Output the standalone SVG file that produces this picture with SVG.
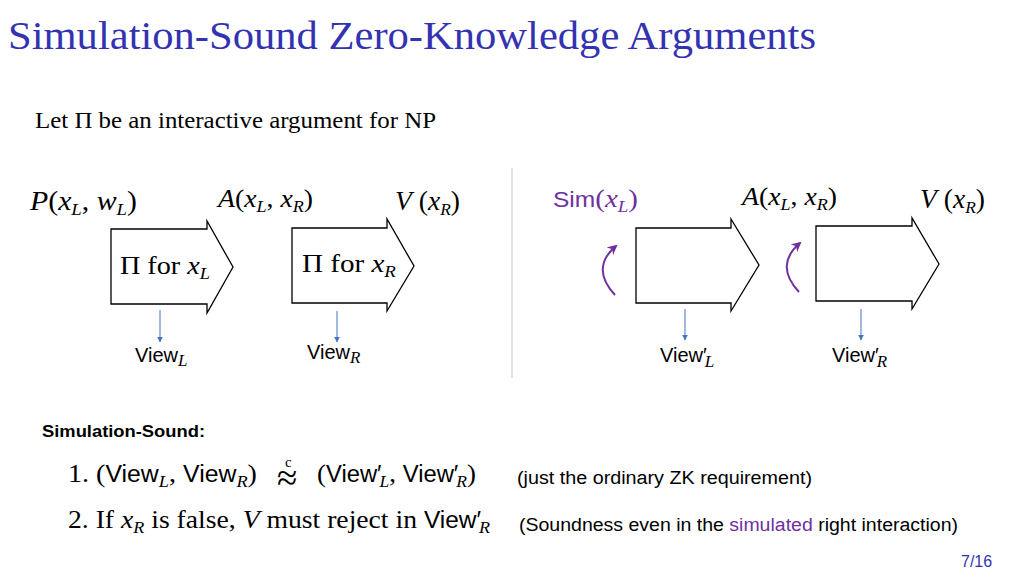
<svg xmlns="http://www.w3.org/2000/svg" width="1024" height="576" viewBox="0 0 1024 576">
<defs>
<style>
.m{font-family:"Liberation Serif","Times New Roman",serif;font-size:25px;fill:#000}
.i{font-style:italic}
.s{font-size:17px}
.v{font-family:"Liberation Sans",Arial,sans-serif;font-size:20px}
.cal{font-family:"Liberation Sans","Open Sans",sans-serif;font-size:18px;fill:#000}
.box{fill:#fff;stroke:#000;stroke-width:1.3}
.blue{stroke:#4472c4;stroke-width:1;fill:none}
.pur{stroke:#7030a0;stroke-width:2;fill:none}
</style>
<marker id="bh" viewBox="0 0 10 10" refX="9" refY="5" markerWidth="6" markerHeight="6" markerUnits="userSpaceOnUse" orient="auto"><path d="M0,0 L10,5 L0,10 z" fill="#4472c4"/></marker>
<marker id="ph" viewBox="0 0 10 10" refX="8" refY="5" markerWidth="10" markerHeight="10" markerUnits="userSpaceOnUse" orient="auto"><path d="M0,0 L10,5 L0,10 L3,5 z" fill="#7030a0"/></marker>
</defs>
<rect width="1024" height="576" fill="#fff"/>
<text x="8" y="49" font-family="Liberation Serif,serif" font-size="40" fill="#3333b2" textLength="808" lengthAdjust="spacingAndGlyphs">Simulation-Sound Zero-Knowledge Arguments</text>
<text x="35" y="128" class="m" textLength="401" lengthAdjust="spacingAndGlyphs" style="font-size:23px">Let Π be an interactive argument for NP</text>
<line x1="512" y1="168" x2="512" y2="378" stroke="#d9d9e6" stroke-width="1.5"/>
<g id="n-prover"><text x="30" y="210" class="m" style="font-size:27px" textLength="107" lengthAdjust="spacingAndGlyphs"><tspan class="i">P</tspan>(<tspan class="i">x</tspan><tspan class="i s" dy="5">L</tspan><tspan dy="-5">, </tspan><tspan class="i">w</tspan><tspan class="i s" dy="5">L</tspan><tspan dy="-5">)</tspan></text></g>
<g id="n-adv1"><text x="218" y="207" class="m" style="font-size:26px" textLength="95" lengthAdjust="spacingAndGlyphs"><tspan class="i">A</tspan>(<tspan class="i">x</tspan><tspan class="i s" dy="5">L</tspan><tspan dy="-5">, </tspan><tspan class="i">x</tspan><tspan class="i s" dy="5">R</tspan><tspan dy="-5">)</tspan></text></g>
<g id="n-ver1"><text x="395" y="210" class="m" style="font-size:27px" textLength="65" lengthAdjust="spacingAndGlyphs"><tspan class="i">V</tspan> (<tspan class="i">x</tspan><tspan class="i s" dy="5">R</tspan><tspan dy="-5">)</tspan></text></g>
<g id="n-sim"><text x="553" y="207" class="m" style="font-size:26px;fill:#7030a0" textLength="85" lengthAdjust="spacingAndGlyphs"><tspan class="v" style="font-size:22px;fill:#7030a0">Sim</tspan>(<tspan class="i">x</tspan><tspan class="i s" dy="5">L</tspan><tspan dy="-5">)</tspan></text></g>
<g id="n-adv2"><text x="742" y="205" class="m" style="font-size:26px" textLength="95" lengthAdjust="spacingAndGlyphs"><tspan class="i">A</tspan>(<tspan class="i">x</tspan><tspan class="i s" dy="5">L</tspan><tspan dy="-5">, </tspan><tspan class="i">x</tspan><tspan class="i s" dy="5">R</tspan><tspan dy="-5">)</tspan></text></g>
<g id="n-ver2"><text x="920" y="208" class="m" style="font-size:27px" textLength="65" lengthAdjust="spacingAndGlyphs"><tspan class="i">V</tspan> (<tspan class="i">x</tspan><tspan class="i s" dy="5">R</tspan><tspan dy="-5">)</tspan></text></g>
<g id="n-pil"><polygon class="box" points="111,229 207,229 207,221 233,267 207,313 207,304 111,304"/><text x="120" y="274" class="m" style="font-size:26px" textLength="90" lengthAdjust="spacingAndGlyphs">Π for <tspan class="i">x</tspan><tspan class="i s" dy="5">L</tspan></text></g>
<g id="n-pir"><polygon class="box" points="292,228 387,228 387,219 414,266 387,311 387,303 292,303"/><text x="302" y="272" class="m" style="font-size:26px" textLength="94" lengthAdjust="spacingAndGlyphs">Π for <tspan class="i">x</tspan><tspan class="i s" dy="5">R</tspan></text></g>
<g id="n-siml"><polygon class="box" points="636,228 731,228 731,219 759,265 731,311 731,303 636,303"/></g>
<g id="n-simr"><polygon class="box" points="816,226 912,226 912,218 939,264 912,309 912,301 816,301"/></g>
<g id="n-viewl"><text x="135" y="362" class="v">View<tspan class="m i s" dy="4" style="font-size:17px">L</tspan></text></g>
<g id="n-viewr"><text x="307" y="359" class="v">View<tspan class="m i s" dy="4" style="font-size:17px">R</tspan></text></g>
<g id="n-viewl2"><text x="660" y="362" class="v">View′<tspan class="m i s" dy="5" dx="-2" style="font-size:17px">L</tspan></text></g>
<g id="n-viewr2"><text x="832" y="362" class="v">View′<tspan class="m i s" dy="5" dx="-2" style="font-size:17px">R</tspan></text></g>
<g id="connectors">
<line class="blue" x1="160" y1="310" x2="160" y2="342" marker-end="url(#bh)"/>
<line class="blue" x1="337" y1="311" x2="337" y2="342" marker-end="url(#bh)"/>
<line class="blue" x1="685" y1="309" x2="685" y2="340" marker-end="url(#bh)"/>
<line class="blue" x1="861" y1="309" x2="861" y2="340" marker-end="url(#bh)"/>
<path class="pur" d="M615,295 Q590,268 616,246" marker-end="url(#ph)"/>
<path class="pur" d="M799,292 Q774,265 800,243" marker-end="url(#ph)"/>
</g>
<text x="42" y="437" font-family="Liberation Sans,Arial,sans-serif" font-weight="bold" font-size="16" textLength="163" lengthAdjust="spacingAndGlyphs">Simulation-Sound:</text>
<text x="68" y="482" class="m" style="font-size:26px" textLength="189" lengthAdjust="spacingAndGlyphs">1. (<tspan class="v" style="font-size:23px">View</tspan><tspan class="i s" dy="5">L</tspan><tspan dy="-5">, </tspan><tspan class="v" style="font-size:23px">View</tspan><tspan class="i s" dy="5">R</tspan><tspan dy="-5">)</tspan></text>
<text x="277" y="490" class="m" style="font-size:37px">≈<tspan x="285" y="467" style="font-size:15px">c</tspan></text>
<text x="317" y="482" class="m" style="font-size:26px" textLength="159" lengthAdjust="spacingAndGlyphs">(<tspan class="v" style="font-size:23px">View′</tspan><tspan class="i s" dy="5" dx="-2">L</tspan><tspan dy="-5">, </tspan><tspan class="v" style="font-size:23px">View′</tspan><tspan class="i s" dy="5" dx="-2">R</tspan><tspan dy="-5">)</tspan></text>
<text x="68" y="528" class="m" style="font-size:26px" textLength="422" lengthAdjust="spacingAndGlyphs">2. If <tspan class="i">x</tspan><tspan class="i s" dy="5">R</tspan><tspan dy="-5"> is false, </tspan><tspan class="i">V</tspan> must reject in <tspan class="v" style="font-size:23px">View′</tspan><tspan class="i s" dy="5" dx="-2">R</tspan></text>
<text x="517" y="484" class="cal" textLength="295" lengthAdjust="spacingAndGlyphs">(just the ordinary ZK requirement)</text>
<text x="519" y="531" class="cal" textLength="439" lengthAdjust="spacingAndGlyphs">(Soundness even in the <tspan fill="#7030a0">simulated</tspan> right interaction)</text>
<text x="961" y="567" font-family="Liberation Sans,Arial,sans-serif" font-size="16" fill="#3333b2">7/16</text>
</svg>
